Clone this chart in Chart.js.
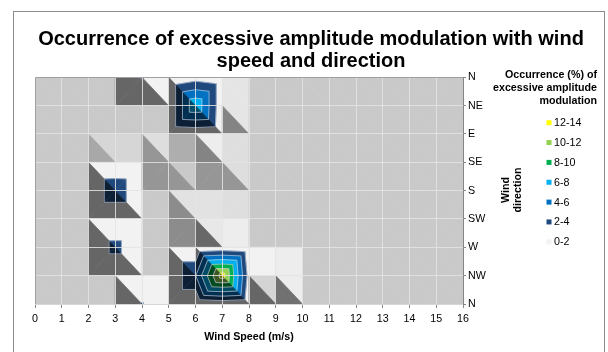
<!DOCTYPE html>
<html>
<head>
<meta charset="utf-8">
<script src="https://cdn.jsdelivr.net/npm/chart.js@4.4.0/dist/chart.umd.min.js"></script>
<style>
  html, body { margin: 0; padding: 0; background: #fff; }
  canvas { display: block; }
</style>
</head>
<body>
<canvas id="surface" width="608" height="352"></canvas>
<script>
// wind speed (m/s) along x, wind direction along y
const speeds = [0, 1, 2, 3, 4, 5, 6, 7, 8, 9, 10, 11, 12, 13, 14, 15, 16];
const directions = ["N", "NE", "E", "SE", "S", "SW", "W", "NW", "N"];

// occurrence (%) of excessive AM, one value per wind speed, one row per direction
const occN0   = [0, 0, 0, 0, 2.1, 0, 1.05, 0.3, 0, 0, 0, 0, 0, 0, 0, 0, 0];
const occNE   = [0, 0, 0, 0, 0, 0, 7.8, 0.3, 0, 0, 0, 0, 0, 0, 0, 0, 0];
const occE    = [0, 0, 0, 0, 0, 0, 0.3, 0, 0, 0, 0, 0, 0, 0, 0, 0, 0];
const occSE   = [0, 0, 0, 0.12, 0, 0.2, 0.1, 0.2, 0, 0, 0, 0, 0, 0, 0, 0, 0];
const occS    = [0, 0, 0, 3.4, 0, 0, 0, 0, 0, 0, 0, 0, 0, 0, 0, 0, 0];
const occSW   = [0, 0, 0, 0, 0, 0, 0.25, 0.2, 0, 0, 0, 0, 0, 0, 0, 0, 0];
const occW    = [0, 0, 0, 2.6, 0, 0, 0, 0.5, 0, 0, 0, 0, 0, 0, 0, 0, 0];
const occNW   = [0, 0, 0, 0, 0, 0, 3.9, 13.2, 1.1, 0.5, 0, 0, 0, 0, 0, 0, 0];
const occN360 = [0, 0, 0, 0, 2.1, 0, 0, 0.47, 0, 0, 0, 0, 0, 0, 0, 0, 0];

const bandLimits = [0, 2, 4, 6, 8, 10, 12, 14];
const bandLabels = ["0-2", "2-4", "4-6", "6-8", "8-10", "10-12", "12-14"];
const bandColors = ["#f2f2f2", "#1f497d", "#0070c0", "#00b0f0", "#00b050", "#92d050", "#ffff00"];

const FONT = "'Liberation Sans', Arial, sans-serif";
const rows = [occN0, occNE, occE, occSE, occS, occSW, occW, occNW, occN360];

const points = [];
rows.forEach((row, r) => row.forEach((v, c) => points.push({ x: speeds[c], y: r, v: v })));

function hexRgb(h) {
  const n = parseInt(h.slice(1), 16);
  return [(n >> 16) & 255, (n >> 8) & 255, n & 255];
}
function tint(rgb, f) {
  return "rgb(" + rgb.map(c => Math.max(0, Math.min(255, Math.round(c * f)))).join(",") + ")";
}
// slope of the plane through three [x, y, z] points
function gradient(a, b, c) {
  const d1 = [b[0] - a[0], b[1] - a[1], b[2] - a[2]];
  const d2 = [c[0] - a[0], c[1] - a[1], c[2] - a[2]];
  const nx = d1[1] * d2[2] - d1[2] * d2[1];
  const ny = d1[2] * d2[0] - d1[0] * d2[2];
  const nz = d1[0] * d2[1] - d1[1] * d2[0];
  return [-nx / nz, -ny / nz];
}
// light comes from the upper right, like the Excel surface
function lightFactor(g) {
  const t = 4 * (g[1] - g[0]) / Math.SQRT2;
  return t >= 0 ? 0.83 + 0.17 * Math.tanh(t) : 0.83 + 0.41 * Math.tanh(t);
}
function clipPoly(poly, level, above) {
  const out = [];
  for (let i = 0; i < poly.length; i++) {
    const a = poly[i], b = poly[(i + 1) % poly.length];
    const ina = above ? a[2] >= level : a[2] <= level;
    const inb = above ? b[2] >= level : b[2] <= level;
    if (ina) out.push(a);
    if (ina !== inb) {
      const t = (level - a[2]) / (b[2] - a[2]);
      out.push([a[0] + t * (b[0] - a[0]), a[1] + t * (b[1] - a[1]), level]);
    }
  }
  return out;
}

const surfacePlugin = {
  id: "surface",
  beforeDatasetsDraw(chart) {
    const ctx = chart.ctx, xs = chart.scales.x, ys = chart.scales.y, area = chart.chartArea;
    const grid = {};
    chart.data.datasets[0].data.forEach(p => { grid[p.x + "," + p.y] = p.v; });
    const px = p => [xs.getPixelForValue(p[0]), ys.getPixelForValue(p[1])];
    const rgbs = bandColors.map(hexRgb);
    const tris = [];
    for (let r = 0; r < directions.length - 1; r++) {
      for (let c = 0; c < speeds.length - 1; c++) {
        const x0 = speeds[c], x1 = speeds[c + 1];
        const tl = [x0, r, grid[x0 + "," + r]], tr = [x1, r, grid[x1 + "," + r]];
        const bl = [x0, r + 1, grid[x0 + "," + (r + 1)]], br = [x1, r + 1, grid[x1 + "," + (r + 1)]];
        // split each cell along the diagonal holding the higher corners
        if (tl[2] + br[2] >= tr[2] + bl[2]) tris.push([tl, tr, br], [tl, br, bl]);
        else tris.push([tl, tr, bl], [tr, br, bl]);
      }
    }
    ctx.save();
    ctx.beginPath();
    ctx.rect(area.left, area.top, area.width, area.height);
    ctx.clip();
    ctx.lineJoin = "round";
    tris.forEach(tri => {
      const f = lightFactor(gradient(tri[0], tri[1], tri[2]));
      for (let k = 0; k < bandColors.length; k++) {
        let poly = tri;
        if (k > 0) poly = clipPoly(poly, bandLimits[k], true);
        if (poly.length < 3) continue;
        if (k < bandColors.length - 1) poly = clipPoly(poly, bandLimits[k + 1], false);
        if (poly.length < 3) continue;
        const col = tint(rgbs[k], f);
        ctx.beginPath();
        poly.forEach((p, i) => { const q = px(p); i ? ctx.lineTo(q[0], q[1]) : ctx.moveTo(q[0], q[1]); });
        ctx.closePath();
        ctx.fillStyle = col;
        ctx.strokeStyle = col;
        ctx.lineWidth = 0.7;
        ctx.fill();
        ctx.stroke();
      }
    });
    // contour boundaries between bands
    ctx.strokeStyle = "rgba(196,206,222,0.65)";
    ctx.lineWidth = 1;
    tris.forEach(tri => {
      for (let k = 1; k < bandLimits.length - 1; k++) {
        const lv = bandLimits[k], cut = [];
        for (let i = 0; i < 3; i++) {
          const a = tri[i], b = tri[(i + 1) % 3];
          if ((a[2] - lv) * (b[2] - lv) < 0) {
            const t = (lv - a[2]) / (b[2] - a[2]);
            cut.push(px([a[0] + t * (b[0] - a[0]), a[1] + t * (b[1] - a[1])]));
          }
        }
        if (cut.length === 2) {
          ctx.beginPath();
          ctx.moveTo(cut[0][0], cut[0][1]);
          ctx.lineTo(cut[1][0], cut[1][1]);
          ctx.stroke();
        }
      }
    });
    ctx.restore();
  },
  afterDraw(chart) {
    const ctx = chart.ctx, area = chart.chartArea;
    ctx.save();
    // plot frame
    ctx.strokeStyle = "#a0a0a0";
    ctx.lineWidth = 1;
    ctx.beginPath();
    ctx.moveTo(Math.round(area.left) + 0.5, Math.round(area.bottom));
    ctx.lineTo(Math.round(area.left) + 0.5, Math.round(area.top) + 0.5);
    ctx.lineTo(Math.round(area.right), Math.round(area.top) + 0.5);
    ctx.stroke();
    // outer chart border
    ctx.strokeStyle = "#8c8c8c";
    ctx.strokeRect(13.5, 11.5, 591, 360);

    ctx.fillStyle = "#000";
    // chart title
    ctx.font = "bold 20px " + FONT;
    ctx.textAlign = "center";
    ctx.textBaseline = "middle";
    ctx.fillText("Occurrence of excessive amplitude modulation with wind", 311, 39.5);
    ctx.fillText("speed and direction", 311, 61);

    // y axis title, rotated
    ctx.font = "bold 10.7px " + FONT;
    ctx.save();
    ctx.translate(512, 190);
    ctx.rotate(-Math.PI / 2);
    ctx.fillText("Wind", 0, -6);
    ctx.fillText("direction", 0, 6);
    ctx.restore();

    // legend
    ctx.textAlign = "right";
    ["Occurrence (%) of", "excessive amplitude", "modulation"].forEach((t, i) => {
      ctx.fillText(t, 597, 75 + i * 12.9);
    });
    ctx.textAlign = "left";
    ctx.font = "10.7px " + FONT;
    for (let i = 0; i < bandLabels.length; i++) {
      const k = bandLabels.length - 1 - i;
      const y = 122.7 + i * 19.85;
      ctx.fillStyle = bandColors[k];
      ctx.fillRect(546.5, y - 2.5, 5, 5);
      ctx.fillStyle = "#000";
      ctx.fillText(bandLabels[k], 554, y + 0.5);
    }
    ctx.restore();
  }
};

new Chart(document.getElementById("surface"), {
  type: "scatter",
  data: {
    datasets: [{
      label: "Occurrence",
      data: points,
      pointRadius: 0,
      pointHoverRadius: 0,
      showLine: false
    }]
  },
  options: {
    responsive: false,
    animation: false,
    devicePixelRatio: 1,
    layout: { padding: { left: 35, right: 115, top: 77.3, bottom: 0 } },
    plugins: {
      legend: { display: false },
      tooltip: { enabled: false },
      title: { display: false }
    },
    scales: {
      x: {
        type: "linear",
        min: 0,
        max: 16,
        afterFit(s) { s.height = 48; },
        ticks: {
          stepSize: 1,
          autoSkip: false,
          maxRotation: 0,
          padding: 5,
          color: "#000",
          font: { family: FONT, size: 10.7 },
          callback: v => speeds.includes(v) ? String(v) : ""
        },
        grid: { z: 1, color: "rgba(228,228,228,0.85)", tickColor: "#868686", tickLength: 4 },
        border: { z: 1, color: "#868686" },
        title: {
          display: true,
          text: "Wind Speed (m/s)",
          color: "#000",
          font: { family: FONT, size: 10.7, weight: "bold" },
          padding: { top: 0, bottom: 9 }
        }
      },
      y: {
        type: "linear",
        position: "right",
        reverse: true,
        min: 0,
        max: directions.length - 1,
        afterFit(s) { s.width = 30; },
        ticks: {
          stepSize: 1,
          autoSkip: false,
          padding: 2,
          color: "#000",
          font: { family: FONT, size: 10.7 },
          callback: v => directions[v] || ""
        },
        grid: { z: 1, color: "rgba(228,228,228,0.85)", tickColor: "#868686", tickLength: 3 },
        border: { z: 1, color: "#868686" }
      }
    }
  },
  plugins: [surfacePlugin]
});
</script>
</body>
</html>
